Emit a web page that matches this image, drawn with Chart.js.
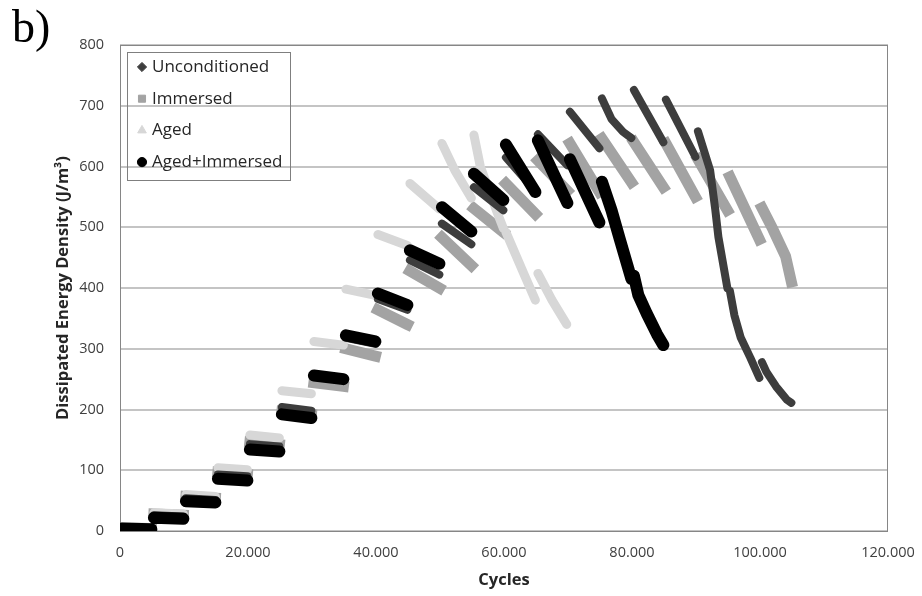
<!DOCTYPE html>
<html>
<head>
<meta charset="utf-8">
<script src="https://cdn.jsdelivr.net/npm/chart.js@4.4.1/dist/chart.umd.min.js"></script>
<style>
  html, body { margin: 0; padding: 0; background: #fff; }
  #wrap { position: relative; width: 922px; height: 596px; }
  #panel { position: absolute; left: 12px; top: 4px; font-family: "Liberation Serif", serif; font-size: 46px; line-height: 1; color: #000; }
</style>
</head>
<body>
<div id="wrap">
  <canvas id="chart" width="922" height="596"></canvas>
  <div id="panel">b)</div>
</div>
<script>
// cycles / dissipated energy, one load block per segment (null = gap)
const uncCycles = [300, 4900, null, 5300, 9900, null, 10300, 14900, null, 15300, 19900, null, 20300, 24900, null,
  25300, 29900, null, 30300, 34900, null, 35300, 39900, null, 40300, 44900, null, 45300, 49900, null,
  50300, 54900, null, 55300, 59900, null, 60300, 64900, null, 65300, 69900, null, 70300, 74900, null,
  75300, 76800, 78600, 79900, null, 80300, 84900, null, 85300, 89900, null,
  90300, 92200, 93000, 93500, 94900, null, 95300, 96000, 97000, 98500, 99900, null,
  100300, 101000, 102500, 104200, 104900];
const uncEnergy = [5, 4, null, 26, 24, null, 54, 51, null, 93, 90, null, 143, 139, null,
  204, 198, null, 255, 249, null, 318, 308, null, 382, 364, null, 446, 422, null,
  506, 472, null, 566, 528, null, 615, 560, null, 653, 602, null, 690, 630, null,
  712, 678, 657, 647, null, 726, 640, null, 710, 616, null,
  658, 594, 530, 484, 400, null, 395, 355, 318, 285, 252, null,
  278, 262, 238, 216, 211];

const immCycles = [300, 4900, null, 5300, 9900, null, 10300, 14900, null, 15300, 19900, null, 20300, 24900, null,
  25300, 29900, null, 30300, 34900, null, 35300, 39900, null, 40300, 44900, null, 45300, 49900, null,
  50300, 54900, null, 55300, 59900, null, 60300, 64900, null, 65300, 69900, null, 70300, 74900, null,
  75300, 79900, null, 80300, 84900, null, 85300, 89900, null, 90300, 94900, null, 95300, 99900, null,
  100300, 102000, 104000, 104900];
const immEnergy = [5, 4, null, 28, 26, null, 57, 54, null, 97, 93, null, 147, 142, null,
  197, 192, null, 244, 238, null, 300, 288, null, 364, 340, null, 428, 400, null,
  483, 437, null, 531, 492, null, 572, 522, null, 610, 560, null, 638, 558, null,
  646, 574, null, 640, 566, null, 638, 550, null, 612, 528, null, 583, 480, null,
  532, 497, 452, 410];

const agedCycles = [300, 4900, null, 5300, 9900, null, 10300, 14900, null, 15300, 19900, null, 20300, 24900, null,
  25300, 29900, null, 30300, 34900, null, 35300, 39900, null, 40300, 44900, null, 45300, 49900, null,
  50300, 52300, 54900, null, 55300, 56300, 58800, 59900, null, 60300, 63200, 64900, null,
  65300, 67500, 69800];
const agedEnergy = [6, 5, null, 30, 28, null, 60, 57, null, 104, 101, null, 158, 153, null,
  231, 226, null, 312, 306, null, 398, 388, null, 488, 470, null, 572, 530, null,
  638, 594, 548, null, 652, 600, 528, 498, null, 492, 421, 380, null,
  424, 380, 340];

const agImCycles = [300, 4900, null, 5300, 9900, null, 10300, 14900, null, 15300, 19900, null, 20300, 24900, null,
  25300, 29900, null, 30300, 34900, null, 35300, 39900, null, 40300, 44900, null, 45300, 49900, null,
  50300, 54900, null, 55300, 59900, null, 60300, 64900, null, 65300, 69900, null, 70300, 74900, null,
  75300, 76800, 78100, 79900, null, 80300, 81000, 82300, 83900, 84900];
const agImEnergy = [4, 3, null, 22, 20, null, 49, 47, null, 86, 83, null, 134, 131, null,
  192, 186, null, 256, 250, null, 322, 312, null, 391, 372, null, 462, 440, null,
  533, 493, null, 588, 545, null, 636, 558, null, 643, 540, null, 612, 508, null,
  575, 528, 480, 415, null, 420, 388, 358, 324, 306];

const xTicks = [0, 20000, 40000, 60000, 80000, 100000, 120000];
const yTicks = [0, 100, 200, 300, 400, 500, 600, 700, 800];

function toPoints(xs, ys) {
  return xs.map((x, i) => ({ x: x, y: ys[i] }));
}

function dotted(v) {
  return String(v).replace(/\B(?=(\d{3})+(?!\d))/g, '.');
}

function band(label, xs, ys, color, width, style, order, cap) {
  return {
    label: label,
    data: toPoints(xs, ys),
    borderColor: color,
    backgroundColor: color,
    borderWidth: width,
    borderCapStyle: cap,
    borderJoinStyle: 'round',
    pointRadius: 0,
    pointHoverRadius: 0,
    pointStyle: style,
    tension: 0,
    fill: false,
    spanGaps: false,
    order: order
  };
}

// plot frame + Excel-like boxed legend in the top-left corner of the plot
const frame = {
  id: 'frame',
  beforeDatasetsDraw(chart) {
    const { ctx, chartArea: a } = chart;
    ctx.save();
    ctx.strokeStyle = '#868686';
    ctx.lineWidth = 1;
    ctx.strokeRect(Math.round(a.left) + 0.5, Math.round(a.top) + 0.5, Math.round(a.width) - 1, Math.round(a.height));
    ctx.restore();
  },
  afterDraw(chart) {
    const { ctx, chartArea: a } = chart;
    const sizes = { rectRot: 4.6, rect: 5, triangle: 5, circle: 4.6 };
    ctx.save();
    ctx.strokeStyle = '#7f7f7f';
    ctx.lineWidth = 1;
    ctx.strokeRect(Math.round(a.left) + 7.5, Math.round(a.top) + 7.5, 163, 128);
    ctx.font = '17px "Open Sans"';
    ctx.textBaseline = 'middle';
    chart.data.datasets.forEach((ds, i) => {
      const cy = a.top + 22 + i * 31.7;
      ctx.fillStyle = ds.borderColor;
      ctx.strokeStyle = ds.borderColor;
      Chart.helpers.drawPoint(ctx, { pointStyle: ds.pointStyle, radius: sizes[ds.pointStyle], rotation: 0, borderWidth: 0.5 }, a.left + 22, cy);
      ctx.fillStyle = '#262626';
      ctx.fillText(ds.label, a.left + 32, cy);
    });
    ctx.restore();
  }
};

new Chart(document.getElementById('chart'), {
  type: 'line',
  data: {
    datasets: [
      band('Unconditioned', uncCycles, uncEnergy, '#3d3d3d', 8, 'rectRot', 1, 'round'),
      band('Immersed', immCycles, immEnergy, '#a3a3a3', 11, 'rect', 3, 'square'),
      band('Aged', agedCycles, agedEnergy, '#d7d7d7', 9, 'triangle', 2, 'round'),
      band('Aged+Immersed', agImCycles, agImEnergy, '#000000', 12, 'circle', 0, 'round')
    ]
  },
  options: {
    responsive: false,
    animation: false,
    events: [],
    layout: { padding: { left: 49, right: 34, top: 45, bottom: 2 } },
    scales: {
      x: {
        type: 'linear',
        min: 0,
        max: 120000,
        afterBuildTicks: (scale) => { scale.ticks = xTicks.map(v => ({ value: v })); },
        afterFit: (scale) => { scale.height = 63; scale.paddingLeft = 0; scale.paddingRight = 0; },
        grid: { display: false, drawTicks: false },
        border: { display: false },
        ticks: {
          padding: 13,
          color: '#404040',
          font: { family: 'Open Sans', size: 14.5 },
          callback: (v) => dotted(v)
        },
        title: {
          display: true,
          text: 'Cycles',
          color: '#262626',
          font: { family: 'Open Sans', size: 16.5, weight: 'bold' },
          padding: { top: 0, bottom: 4 }
        }
      },
      y: {
        min: 0,
        max: 800,
        afterBuildTicks: (scale) => { scale.ticks = yTicks.map(v => ({ value: v })); },
        afterFit: (scale) => { scale.width = 71; },
        grid: { color: '#c4c4c4', lineWidth: 2, drawTicks: false },
        border: { display: false },
        ticks: {
          padding: 16,
          color: '#404040',
          font: { family: 'Open Sans', size: 14.5 }
        },
        title: {
          display: true,
          text: 'Dissipated Energy Density (J/m³)',
          color: '#262626',
          font: { family: 'Open Sans', size: 16.5, weight: 'bold' },
          padding: { top: 4, bottom: 0 }
        }
      }
    },
    plugins: {
      tooltip: { enabled: false },
      legend: { display: false }
    }
  },
  plugins: [frame]
});
</script>
</body>
</html>
